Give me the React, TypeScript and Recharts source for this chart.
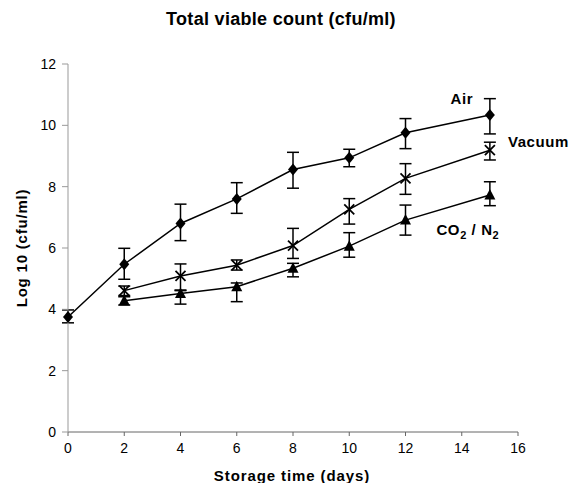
import React from 'react'
import { LineChart, Line, XAxis, YAxis, ErrorBar, LabelList } from 'recharts'

const airDays = [0, 2, 4, 6, 8, 10, 12, 15]
const airMean = [3.75, 5.47, 6.8, 7.6, 8.56, 8.94, 9.76, 10.34]
const airLow = [3.56, 4.98, 6.24, 7.13, 7.95, 8.65, 9.24, 9.72]
const airHigh = [3.98, 5.99, 7.43, 8.13, 9.12, 9.22, 10.22, 10.87]

const vacDays = [2, 4, 6, 8, 10, 12, 15]
const vacMean = [4.61, 5.09, 5.44, 6.08, 7.26, 8.27, 9.19]
const vacLow = [4.41, 4.61, 5.28, 5.66, 6.78, 7.75, 8.87]
const vacHigh = [4.76, 5.48, 5.61, 6.64, 7.61, 8.75, 9.45]

const co2Days = [2, 4, 6, 8, 10, 12, 15]
const co2Mean = [4.28, 4.52, 4.74, 5.34, 6.06, 6.91, 7.73]
const co2Low = [4.14, 4.17, 4.25, 5.06, 5.7, 6.42, 7.38]
const co2High = [4.45, 4.63, 4.86, 5.5, 6.5, 7.4, 8.16]

const xTicks = [0, 2, 4, 6, 8, 10, 12, 14, 16]
const yTicks = [0, 2, 4, 6, 8, 10, 12]

const build = (days: number[], mean: number[], low: number[], high: number[]) =>
  days.map((d, i) => ({
    day: d,
    v: mean[i],
    err: [+(mean[i] - low[i]).toFixed(2), +(high[i] - mean[i]).toFixed(2)],
  }))

const airData = build(airDays, airMean, airLow, airHigh)
const vacData = build(vacDays, vacMean, vacLow, vacHigh)
const co2Data = build(co2Days, co2Mean, co2Low, co2High)

const font = '"Liberation Sans", Arial, sans-serif'

const Diamond = (p: any) => {
  const { cx, cy } = p
  if (cx == null || cy == null) return null
  return <polygon key={`d${p.index}`} points={`${cx},${cy - 6} ${cx + 5},${cy} ${cx},${cy + 6} ${cx - 5},${cy}`} fill="#000" />
}

const Cross = (p: any) => {
  const { cx, cy } = p
  if (cx == null || cy == null) return null
  return (
    <g key={`x${p.index}`} stroke="#000" strokeWidth={1.8}>
      <line x1={cx - 5} y1={cy - 5} x2={cx + 5} y2={cy + 5} />
      <line x1={cx - 5} y1={cy + 5} x2={cx + 5} y2={cy - 5} />
    </g>
  )
}

const Triangle = (p: any) => {
  const { cx, cy } = p
  if (cx == null || cy == null) return null
  return <polygon key={`t${p.index}`} points={`${cx},${cy - 6} ${cx + 5.5},${cy + 4.5} ${cx - 5.5},${cy + 4.5}`} fill="#000" />
}

const seriesLabel = (text: React.ReactNode, dx: number, dy: number, anchor: string, last: number) => (p: any) => {
  if (p.index !== last) return null
  return (
    <text x={p.x + dx} y={p.y + dy} textAnchor={anchor} fontFamily={font} fontSize={15} fontWeight="bold" letterSpacing={0.6} fill="#000">
      {text}
    </text>
  )
}

export default function App() {
  return (
    <div style={{ position: 'absolute', left: 0, top: 0, width: 570, height: 483, background: '#fff' }}>
      <div
        style={{
          position: 'absolute', left: 0, top: 9, width: 570, textAlign: 'center',
          fontFamily: font, fontWeight: 'bold', fontSize: 18, letterSpacing: 0.3,
        }}
      >
        <span style={{ position: 'relative', left: -4 }}>Total viable count (cfu/ml)</span>
      </div>
      <LineChart width={570} height={483} margin={{ top: 64, right: 52, left: 0, bottom: 0 }}>
        <XAxis
          type="number"
          dataKey="day"
          domain={[0, 16]}
          ticks={xTicks}
          height={51}
          stroke="#666"
          tick={{ fill: '#000', fontSize: 14, fontFamily: font }}
          tickSize={4}
          tickMargin={7}
          label={{
            content: (props: any) => (
              <text x={props.viewBox.x + props.viewBox.width / 2 - 1} y={481} textAnchor="middle" fontFamily={font} fontSize={15} fontWeight="bold" letterSpacing={0.9} fill="#000">
                Storage time (days)
              </text>
            ),
          }}
        />
        <YAxis
          type="number"
          domain={[0, 12]}
          ticks={yTicks}
          width={68}
          stroke="#999"
          tick={{ fill: '#000', fontSize: 14, fontFamily: font }}
          tickSize={6}
          tickMargin={6}
          label={{
            content: (props: any) => (
              <text
                x={27}
                y={props.viewBox.y + props.viewBox.height / 2}
                transform={`rotate(-90 27 ${props.viewBox.y + props.viewBox.height / 2})`}
                textAnchor="middle"
                fontFamily={font}
                fontSize={15}
                fontWeight="bold"
                letterSpacing={0.8}
                fill="#000"
              >
                Log 10 (cfu/ml)
              </text>
            ),
          }}
        />
        <Line data={airData} dataKey="v" stroke="#000" strokeWidth={1.5} dot={Diamond} activeDot={false} isAnimationActive={false}>
          <ErrorBar dataKey="err" direction="y" width={6} stroke="#000" strokeWidth={1.5} />
          <LabelList dataKey="v" content={seriesLabel('Air', -28, -11, 'middle', airData.length - 1)} />
        </Line>
        <Line data={vacData} dataKey="v" stroke="#000" strokeWidth={1.5} dot={Cross} activeDot={false} isAnimationActive={false}>
          <ErrorBar dataKey="err" direction="y" width={6} stroke="#000" strokeWidth={1.5} />
          <LabelList
            dataKey="v"
            content={seriesLabel('Vacuum', 18, -3, 'start', vacData.length - 1)}
          />
        </Line>
        <Line data={co2Data} dataKey="v" stroke="#000" strokeWidth={1.5} dot={Triangle} activeDot={false} isAnimationActive={false}>
          <ErrorBar dataKey="err" direction="y" width={6} stroke="#000" strokeWidth={1.5} />
          <LabelList
            dataKey="v"
            content={seriesLabel(
              <>
                <tspan>CO</tspan>
                <tspan fontSize={11} dy={4}>2</tspan>
                <tspan dy={-4}> / N</tspan>
                <tspan fontSize={11} dy={4}>2</tspan>
              </>,
              -22,
              40,
              'middle',
              co2Data.length - 1
            )}
          />
        </Line>
      </LineChart>
    </div>
  )
}
